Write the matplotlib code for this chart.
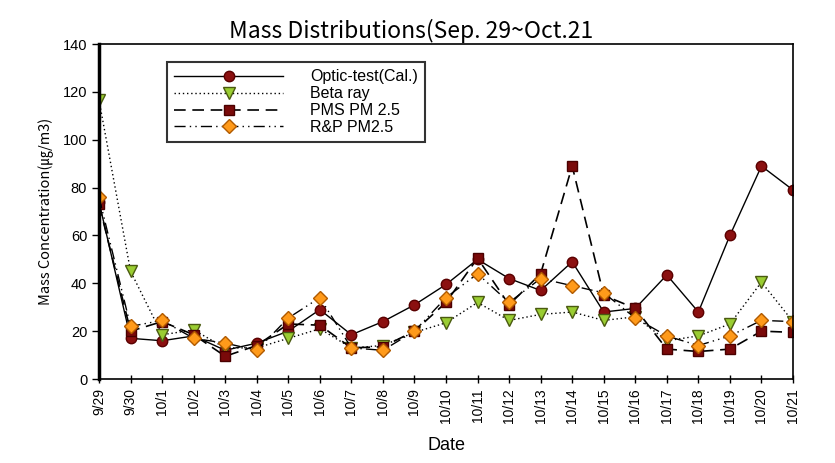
import matplotlib
matplotlib.use('Agg')
import matplotlib.pyplot as plt

# data
dates = ['9/29', '9/30', '10/1', '10/2', '10/3', '10/4', '10/5', '10/6', '10/7',
         '10/8', '10/9', '10/10', '10/11', '10/12', '10/13', '10/14', '10/15',
         '10/16', '10/17', '10/18', '10/19', '10/20', '10/21']
optic = [74, 17, 16, 18, 12, 15, 20, 29, 18.5, 24, 31, 39.5, 50, 42, 37, 49,
         28, 29.5, 43.5, 28, 60, 89, 79]
beta = [116.5, 45, 18.5, 20.5, 13, 13, 17, 21, 13, 14, 19.5, 23.5, 32, 24.5,
        27, 28, 24.5, 26, 16, 18, 23, 40.5, 24]
pms = [73, 20, 24, 18.5, 9.5, 14, 23, 22.5, 13, 13.5, 20, 32, 50.5, 31, 44,
       89, 35, 29.5, 12.5, 11.5, 12.5, 20, 19.5]
rp = [76, 22, 24.5, 17, 15, 12, 25.5, 34, 13, 12, 20, 34, 44, 32, 42, 39, 36,
      25.5, 18, 14, 18, 24.5, 24]

plt.rcParams['font.family'] = ['Liberation Sans', 'DejaVu Sans']

fig = plt.figure(figsize=(8.35, 4.63), dpi=100)
ax = fig.add_axes([0.1186, 0.1814, 0.8311, 0.7235])

x = list(range(len(dates)))
ax.plot(x, optic, color='black', lw=1, ls='-', marker='o', ms=7.5,
        mfc='#8b1010', mec='#5a0000', label='Optic-test(Cal.)')
ax.plot(x, beta, color='black', lw=1, ls=(0, (1, 2)), marker='v', ms=8.5,
        mfc='#9acd32', mec='#4a5a10', label='Beta ray')
ax.plot(x, pms, color='black', lw=1.2, ls=(0, (7, 4)), marker='s', ms=7.5,
        mfc='#7a0a0a', mec='#4a0000', label='PMS PM 2.5')
ax.plot(x, rp, color='black', lw=1, ls=(0, (8, 3, 1, 3, 1, 3)), marker='D', ms=7,
        mfc='#ff9a1a', mec='#b05a00', label='R&P PM2.5')

ax.set_xlim(0, len(dates) - 1)
ax.set_ylim(0, 140)
ax.set_yticks(range(0, 141, 20))
ax.set_xticks(x)
ax.set_xticklabels(dates, rotation=90, fontsize=10)
ax.tick_params(axis='y', labelsize=10.5, direction='out', length=5, width=1)
ax.tick_params(axis='x', direction='inout', length=6, width=1)
for s in ax.spines.values():
    s.set_linewidth(1.2)
ax.spines['left'].set_linewidth(2.5)

ax.set_title('Mass Distributions(Sep. 29~Oct.21', fontsize=16.5, x=0.45,
             family=['Noto Sans CJK KR', 'DejaVu Sans'], pad=4)
ax.set_xlabel('Date', fontsize=13, labelpad=10)
ax.set_ylabel('Mass Concentration(\u338d/m3)', fontsize=10.5, labelpad=6,
              family=['Liberation Sans Narrow', 'Noto Sans CJK KR', 'DejaVu Sans'])

leg = ax.legend(loc='upper left', bbox_to_anchor=(0.098, 0.946), fontsize=11.5,
                handlelength=6.8, handletextpad=1.7, labelspacing=0.12,
                fancybox=False, borderpad=0.45, borderaxespad=0)
leg.get_frame().set_edgecolor('black')
leg.get_frame().set_linewidth(1.5)

fig.savefig('out.png', dpi=100)
